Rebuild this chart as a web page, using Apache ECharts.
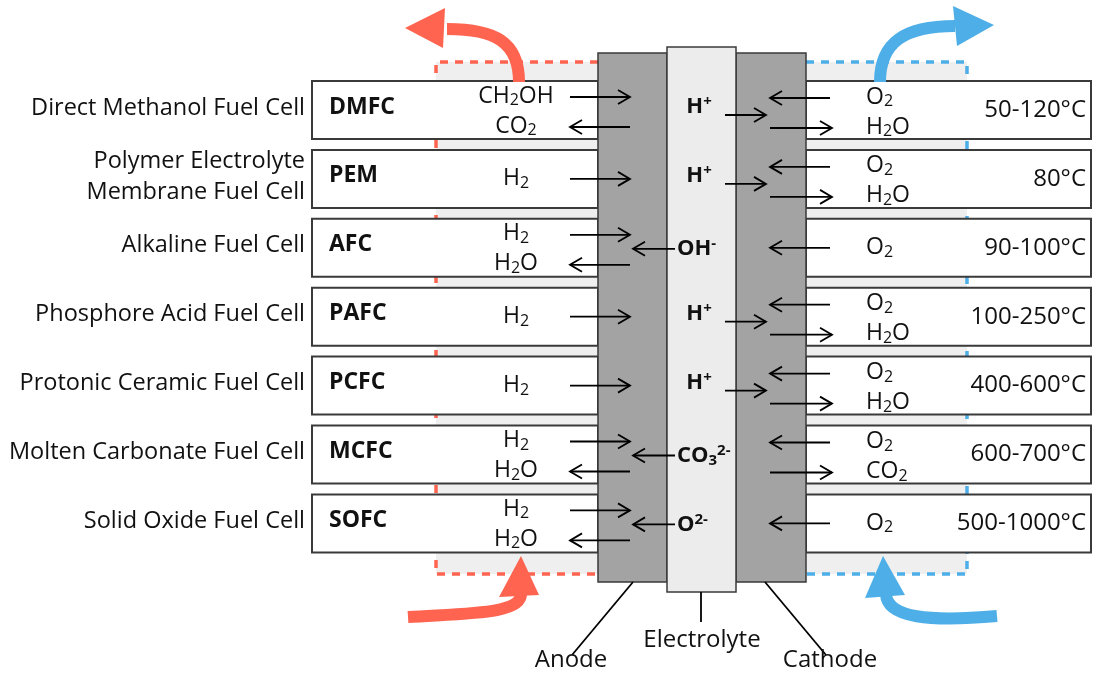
<!DOCTYPE html>
<html>
<head>
<meta charset="utf-8">
<script src="https://cdn.jsdelivr.net/npm/echarts@6/dist/echarts.min.js"></script>
<style>
html, body { margin: 0; padding: 0; background: #fff; }
#main { width: 1095px; height: 673px; }
</style>
</head>
<body>
<div id="main"></div>
<script>
// rows of the figure, top to bottom
var cellNames = ['Direct Methanol Fuel Cell', 'Polymer Electrolyte\nMembrane Fuel Cell', 'Alkaline Fuel Cell',
	'Phosphore Acid Fuel Cell', 'Protonic Ceramic Fuel Cell', 'Molten Carbonate Fuel Cell', 'Solid Oxide Fuel Cell'];
var abbrevs = ['DMFC', 'PEM', 'AFC', 'PAFC', 'PCFC', 'MCFC', 'SOFC'];
var anodeSpecies = [['CH2OH', 'CO2'], ['H2'], ['H2', 'H2O'], ['H2'], ['H2'], ['H2', 'H2O'], ['H2', 'H2O']];
var anodeFlows = [['in', 'out'], ['in'], ['in', 'out'], ['in'], ['in'], ['in', 'out'], ['in', 'out']];
var ions = [['H', '+'], ['H', '+'], ['OH', '-'], ['H', '+'], ['H', '+'], ['CO3', '2-'], ['O', '2-']];
var ionFlows = ['cathode', 'cathode', 'anode', 'cathode', 'cathode', 'anode', 'anode'];
var cathodeSpecies = [['O2', 'H2O'], ['O2', 'H2O'], ['O2'], ['O2', 'H2O'], ['O2', 'H2O'], ['O2', 'CO2'], ['O2']];
var cathodeFlows = [['in', 'out'], ['in', 'out'], ['in'], ['in', 'out'], ['in', 'out'], ['in', 'out'], ['in']];
var temperatures = ['50-120°C', '80°C', '90-100°C', '100-250°C', '400-600°C', '600-700°C', '500-1000°C'];
var layerNames = ['Anode', 'Electrolyte', 'Cathode'];

// layout (diagram units = pixels of the axes below)
var LAY = {
	rowY0: 110, rowStep: 68.9, rowH: 58,
	labelR: 305, boxL: 312, abbrL: 329,
	anodeL: 598, anodeR: 667, elecR: 736, cathR: 806, boxR: 1091,
	layerTop: 53, layerBot: 582, elecTop: 47, elecBot: 592,
	regTop: 62, regBot: 574, redL: 436, blueR: 967
};
var FONT = '"Open Sans", Lato, sans-serif';
var RED = '#fe6450', BLUE = '#4eafe8';

function rowY(i) { return LAY.rowY0 + i * LAY.rowStep; }

function richFor(size, weight) {
	return {
		sub: { fontSize: Math.round(size * 0.7), lineHeight: 14, verticalAlign: 'bottom', fontFamily: FONT, fontWeight: weight, fill: '#111' },
		sup: { fontSize: Math.round(size * 0.66), lineHeight: 14, verticalAlign: 'top', fontFamily: FONT, fontWeight: weight, fill: '#111' }
	};
}
function chem(s) { return s.replace(/(\d+)/g, '{sub|$1}'); }

function txt(api, x, y, text, o) {
	o = o || {};
	var p = api.coord([x, y]);
	var size = o.size || 23, weight = o.weight || 'normal';
	return {
		type: 'text',
		style: {
			x: p[0], y: p[1], text: text, fill: '#111',
			fontSize: size, fontFamily: FONT, fontWeight: weight, lineHeight: o.lineHeight || 25,
			align: o.align || 'center', verticalAlign: 'middle',
			rich: richFor(size, weight)
		}
	};
}
function rect(api, x1, y1, x2, y2, style) {
	var a = api.coord([x1, y1]), b = api.coord([x2, y2]);
	return { type: 'rect', shape: { x: a[0], y: a[1], width: b[0] - a[0], height: b[1] - a[1] }, style: style };
}
function arrow(api, xTail, xHead, y) {
	var t = api.coord([xTail, y]), h = api.coord([xHead, y]);
	var d = h[0] > t[0] ? 1 : -1;
	return [
		{ type: 'polyline', shape: { points: [t, h] }, style: { stroke: '#000', lineWidth: 1.8, fill: null } },
		{ type: 'polyline', shape: { points: [[h[0] - d * 12, h[1] - 7], h, [h[0] - d * 12, h[1] + 7]] },
			style: { stroke: '#000', lineWidth: 1.8, fill: null } }
	];
}
function bigArrow(api, pts, head, color) {
	var c = pts.map(function (q) { return api.coord(q); });
	return [
		{ type: 'bezierCurve', shape: { x1: c[0][0], y1: c[0][1], cpx1: c[1][0], cpy1: c[1][1], cpx2: c[2][0], cpy2: c[2][1], x2: c[3][0], y2: c[3][1] },
			style: { stroke: color, lineWidth: 12, fill: null } },
		{ type: 'polygon', shape: { points: head.map(function (q) { return api.coord(q); }) }, style: { fill: color } }
	];
}

// dashed gas regions behind the rows
function renderRegions(params, api) {
	var dash = function (pts, color) {
		return { type: 'polyline', shape: { points: pts.map(function (q) { return api.coord(q); }) },
			style: { stroke: color, lineWidth: 3.5, lineDash: [8, 7], fill: null } };
	};
	return { type: 'group', children: [
		rect(api, LAY.redL, LAY.regTop, LAY.anodeL, LAY.regBot, { fill: '#efefef' }),
		rect(api, LAY.cathR, LAY.regTop, LAY.blueR, LAY.regBot, { fill: '#efefef' }),
		dash([[LAY.anodeL, LAY.regTop], [LAY.redL, LAY.regTop], [LAY.redL, LAY.regBot], [LAY.anodeL, LAY.regBot]], RED),
		dash([[LAY.cathR, LAY.regTop], [LAY.blueR, LAY.regTop], [LAY.blueR, LAY.regBot], [LAY.cathR, LAY.regBot]], BLUE)
	] };
}

function renderRow(params, api) {
	var i = params.dataIndex, yc = rowY(i), h = LAY.rowH / 2;
	var box = { fill: '#fff', stroke: '#3a3a3a', lineWidth: 2 };
	var ch = [
		rect(api, LAY.boxL, yc - h, LAY.anodeL, yc + h, box),
		rect(api, LAY.cathR, yc - h, LAY.boxR, yc + h, box),
		txt(api, LAY.labelR, yc - 2, cellNames[i], { align: 'right', size: 23.5, lineHeight: 31 }),
		txt(api, LAY.abbrL, yc - 3, abbrevs[i], { align: 'left', size: 23, weight: 'bold' }),
		txt(api, 1086, yc, temperatures[i], { align: 'right', size: 24 })
	];
	var an = anodeSpecies[i], ca = cathodeSpecies[i];
	an.forEach(function (s, k) {
		var y = an.length === 1 ? yc : yc + (k === 0 ? -14 : 16);
		ch.push(txt(api, 516, y, chem(s), { size: 23 }));
	});
	ca.forEach(function (s, k) {
		var y = ca.length === 1 ? yc : yc + (k === 0 ? -13 : 17);
		ch.push(txt(api, 866, y, chem(s), { align: 'left', size: 23 }));
	});
	return { type: 'group', children: ch };
}

function renderLayers(params, api) {
	var dark = { fill: '#a3a3a3', stroke: '#3a3a3a', lineWidth: 1.5 };
	var line = function (a, b) {
		return { type: 'polyline', shape: { points: [api.coord(a), api.coord(b)] }, style: { stroke: '#000', lineWidth: 1.8, fill: null } };
	};
	return { type: 'group', children: [
		rect(api, LAY.anodeL, LAY.layerTop, LAY.anodeR, LAY.layerBot, dark),
		rect(api, LAY.elecR, LAY.layerTop, LAY.cathR, LAY.layerBot, dark),
		rect(api, LAY.anodeR, LAY.elecTop, LAY.elecR, LAY.elecBot, { fill: '#ececec', stroke: '#3a3a3a', lineWidth: 1.5 }),
		line([633, LAY.layerBot], [572, 655]),
		line([701, LAY.elecBot], [701, 622]),
		line([765, LAY.layerBot], [826, 655]),
		txt(api, 571, 660, layerNames[0], { size: 24 }),
		txt(api, 702, 640, layerNames[1], { size: 24 }),
		txt(api, 830, 660, layerNames[2], { size: 24 })
	] };
}

function renderFlows(params, api) {
	var i = params.dataIndex, yc = rowY(i), ch = [];
	var af = anodeFlows[i], cf = cathodeFlows[i];
	af.forEach(function (f, k) {
		var y = af.length === 1 ? yc : yc + (k === 0 ? -13 : 17);
		ch = ch.concat(f === 'in' ? arrow(api, 570, 630, y) : arrow(api, 630, 570, y));
	});
	cf.forEach(function (f, k) {
		var y = cf.length === 1 ? yc : yc + (k === 0 ? -12 : 18);
		ch = ch.concat(f === 'in' ? arrow(api, 830, 770, y) : arrow(api, 770, 832, y));
	});
	var ion = chem(ions[i][0]) + '{sup|' + ions[i][1] + '}';
	if (ionFlows[i] === 'cathode') {
		ch.push(txt(api, 699, yc - 3, ion, { size: 22, weight: 'bold' }));
		ch = ch.concat(arrow(api, 725, 766, yc + 5));
	} else {
		ch.push(txt(api, 677, yc + 1, ion, { align: 'left', size: 22, weight: 'bold' }));
		ch = ch.concat(arrow(api, 675, 633, yc + 1));
	}
	return { type: 'group', children: ch };
}

function renderBigArrows(params, api) {
	return { type: 'group', children: [].concat(
		bigArrow(api, [[519, 82], [519, 42], [495, 29], [447, 29]], [[445, 8], [405, 28], [443, 48]], RED),
		bigArrow(api, [[880, 82], [880, 42], [905, 26], [955, 26]], [[953, 6], [994, 25], [957, 46]], BLUE),
		bigArrow(api, [[408, 617], [470, 613], [521, 614], [521, 594]], [[499, 597], [521, 556], [539, 595]], RED),
		bigArrow(api, [[997, 616], [930, 622], [887, 618], [886, 594]], [[865, 598], [883, 556], [905, 595]], BLUE)
	) };
}

var chart = echarts.init(document.getElementById('main'));
var rowData = abbrevs.map(function (a, i) { return [i]; });
var option = {
	animation: false,
	grid: { left: 0, right: 0, top: 0, bottom: 0 },
	xAxis: { type: 'value', min: 0, max: 1095, show: false },
	yAxis: { type: 'value', min: 0, max: 673, inverse: true, show: false },
	series: [
		{ type: 'custom', name: 'regions', z: 1, data: [[0]], renderItem: renderRegions, silent: true },
		{ type: 'custom', name: 'rows', z: 2, data: rowData, renderItem: renderRow, silent: true },
		{ type: 'custom', name: 'layers', z: 3, data: [[0]], renderItem: renderLayers, silent: true },
		{ type: 'custom', name: 'flows', z: 4, data: rowData, renderItem: renderFlows, silent: true },
		{ type: 'custom', name: 'gas', z: 5, data: [[0]], renderItem: renderBigArrows, silent: true }
	]
};
chart.setOption(option);
</script>
</body>
</html>
